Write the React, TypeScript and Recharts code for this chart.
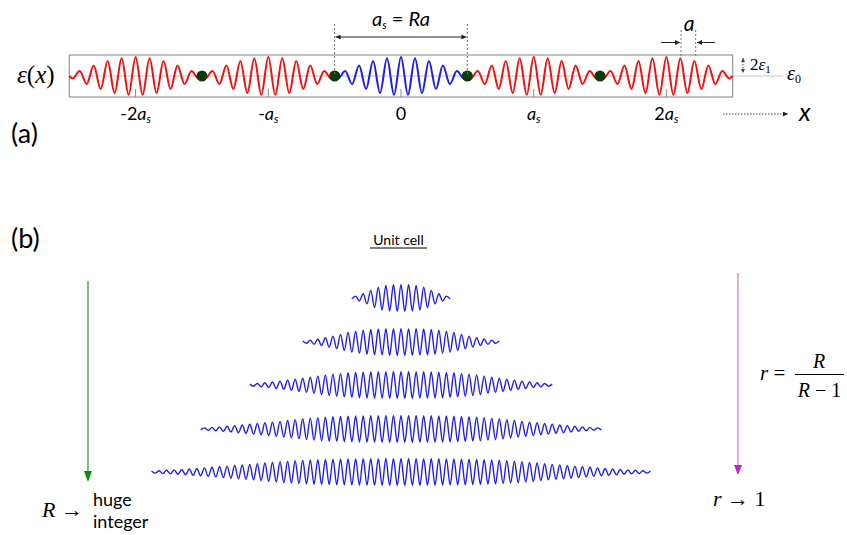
import React from 'react';
import { ComposedChart, LineChart, Line, Scatter, XAxis, YAxis, ReferenceArea, ReferenceLine } from 'recharts';

// ---- panel (a): periodic chain of unit cells ----
const cellCenters = [-2, -1, 0, 1, 2];
// crest heights of one cell, from the centre outwards, one per half cycle
const cellCrests = [19, 18.8, 17.8, 17, 15, 13, 10.5, 8, 5, 2.5];
const boundaries = [-1.5, -0.5, 0.5, 1.5];
const tickLabels = ['-2a_s', '-a_s', '0', 'a_s', '2a_s'];

// ---- panel (b): unit cells for growing R, crest heights centre outwards ----
const row1 = [13.5, 13.4, 13.2, 13, 12.6, 11.9, 10.8, 9.5, 7.6, 5.9, 4.3, 3, 1.9, 0.9];
const row2 = [13.5, 13.5, 13.4, 13.4, 13.2, 13.1, 13, 12.8, 12.6, 12.2, 11.9, 11.3, 10.8, 10.1, 9.5, 8.5, 7.6, 6.8, 5.9, 5.1, 4.3, 3.6, 3, 2.4, 1.9, 1.4, 0.9];
const row3 = [13.5, 13.5, 13.5, 13.5, 13.4, 13.3, 13.2, 13.2, 13.1, 13, 12.9, 12.8, 12.6, 12.4, 12.2, 11.9, 11.6, 11.3, 10.9, 10.5, 10.1, 9.5, 8.9, 8.3, 7.7, 7.3, 6.8, 6.3, 5.8, 5.4, 4.9, 4.4, 3.9, 3.5, 3, 2.6, 2.2, 1.9, 1.5, 1.2, 0.9];
const row4 = [13.5, 13.5, 13.5, 13.5, 13.5, 13.4, 13.4, 13.3, 13.2, 13.2, 13.1, 13.1, 13, 12.9, 12.8, 12.7, 12.6, 12.4, 12.3, 12.1, 11.9, 11.7, 11.4, 11.1, 10.9, 10.5, 10.2, 9.9, 9.4, 9, 8.5, 8.1, 7.6, 7.3, 6.9, 6.6, 6.2, 5.8, 5.5, 5.1, 4.8, 4.4, 4, 3.7, 3.4, 3, 2.7, 2.4, 2.1, 1.8, 1.6, 1.3, 1.1, 0.9];
const row5 = [13.5, 13.5, 13.5, 13.5, 13.5, 13.5, 13.4, 13.4, 13.3, 13.3, 13.2, 13.2, 13.1, 13.1, 13, 13, 12.9, 12.8, 12.8, 12.7, 12.6, 12.5, 12.3, 12.2, 12.1, 11.9, 11.7, 11.5, 11.3, 11.1, 10.8, 10.6, 10.3, 10.1, 9.7, 9.4, 9, 8.6, 8.3, 7.9, 7.6, 7.3, 7, 6.8, 6.5, 6.2, 5.9, 5.6, 5.3, 5, 4.7, 4.4, 4.1, 3.8, 3.5, 3.3, 3, 2.8, 2.5, 2.3, 2.1, 1.9, 1.7, 1.5, 1.3, 1.1, 0.9];
const rows = [row1, row2, row3, row4, row5];

// ---- layout ----
const W = 847;
const H = 535;
const CX = 401; // page x of the cell centre
const CELL_PX = 132.7;
const HALF_PX = 3.78;
const HALF_CYCLES_PER_CELL = 19;
const rowTops = [278, 321.5, 365, 408.5, 452];

const RED = '#f01010';
const BLUE = '#1e1ee8';
const SANS = 'Lato, "Open Sans", sans-serif';
const SERIF = '"Liberation Serif", "DejaVu Serif", serif';

type Row = { x: number; red?: number; blue?: number };
const tableA: Row[] = [];
cellCenters.forEach((c) => {
  const key = c === 0 ? 'blue' : 'red';
  const pts: { x: number; y: number }[] = [{ x: c - 0.5, y: 0 }];
  const n = cellCrests.length - 1;
  for (let k = -n; k <= n; k++) {
    pts.push({ x: c + k / HALF_CYCLES_PER_CELL, y: (k % 2 === 0 ? 1 : -1) * cellCrests[Math.abs(k)] });
  }
  pts.push({ x: c + 0.5, y: 0 });
  pts.forEach((p) => {
    const last = tableA[tableA.length - 1];
    if (last && Math.abs(last.x - p.x) < 1e-9) (last as any)[key] = p.y;
    else tableA.push({ x: p.x, [key]: p.y } as Row);
  });
});
const dotData = boundaries.map((b) => ({ x: b, y: 0 }));

const rowData = rows.map((crests) => {
  const n = crests.length - 1;
  const pts: { x: number; y: number }[] = [];
  for (let k = -n; k <= n; k++) pts.push({ x: k, y: (k % 2 === 0 ? 1 : -1) * crests[Math.abs(k)] });
  return pts;
});

const CellTick = (props: any) => {
  const { x, y, payload } = props;
  const label = tickLabels[cellCenters.indexOf(payload.value)] || '';
  const [main, sub] = label.split('_');
  const hasA = main.endsWith('a');
  const prefix = hasA ? main.slice(0, -1) : main;
  return (
    <g>
      <line x1={x} x2={x} y1={y - 8} y2={y} stroke="#8c8c8c" />
      <text x={x} y={y + 23} textAnchor="middle" fontFamily={SANS} fontSize={18} fill="#000">
        <tspan>{prefix}</tspan>
        {hasA && <tspan fontStyle="italic">a</tspan>}
        {sub && (
          <tspan fontStyle="italic" fontSize={11} dy={3}>
            {sub}
          </tspan>
        )}
      </text>
    </g>
  );
};

const App: React.FC = () => {
  return (
    <div style={{ position: 'absolute', left: 0, top: 0, width: W, height: H, background: '#fff' }}>
      {/* (a) */}
      <div style={{ position: 'absolute', left: 0, top: 0 }}>
        <ComposedChart width={W} height={140} data={tableA} margin={{ top: 55, right: 0, bottom: 13, left: 0 }}>
          <XAxis
            dataKey="x"
            type="number"
            domain={[-CX / CELL_PX, (W - CX) / CELL_PX]}
            ticks={cellCenters}
            tick={<CellTick />}
            axisLine={false}
            tickLine={false}
            tickSize={0}
            tickMargin={0}
            height={30}
            interval={0}
          />
          <YAxis type="number" domain={[-21, 21]} hide />
          <ReferenceArea x1={-2.5} x2={2.5} y1={-21} y2={21} fill="none" stroke="#808080" strokeWidth={1} />
          <ReferenceLine segment={[{ x: -2.5, y: 0 }, { x: 2.88, y: 0 }]} stroke="#c8c8c8" strokeWidth={1.2} />
          <Line dataKey="red" type="monotone" stroke={RED} strokeWidth={2} dot={false} isAnimationActive={false} connectNulls={false} />
          <Line dataKey="blue" type="monotone" stroke={BLUE} strokeWidth={2} dot={false} isAnimationActive={false} connectNulls={false} />
          <Scatter
            data={dotData}
            dataKey="y"
            isAnimationActive={false}
            shape={(p: any) => <circle cx={p.cx} cy={p.cy} r={5.5} fill="#0b3b0b" />}
          />
        </ComposedChart>
      </div>

      {/* (b) */}
      {rowData.map((d, i) => (
        <div key={i} style={{ position: 'absolute', left: 0, top: rowTops[i] }}>
          <LineChart width={W} height={40} data={d} margin={{ top: 0, right: 0, bottom: 0, left: 0 }}>
            <XAxis dataKey="x" type="number" domain={[-CX / HALF_PX, (W - CX) / HALF_PX]} hide />
            <YAxis type="number" domain={[-20, 20]} hide />
            <Line dataKey="y" type="monotone" stroke={BLUE} strokeWidth={1.4} dot={false} isAnimationActive={false} />
          </LineChart>
        </div>
      ))}

      {/* annotations */}
      <svg width={W} height={H} style={{ position: 'absolute', left: 0, top: 0, pointerEvents: 'none' }}>
        <defs>
          <marker id="ah" viewBox="0 0 10 10" refX="10" refY="5" markerWidth="7" markerHeight="5" orient="auto-start-reverse" markerUnits="userSpaceOnUse">
            <path d="M0,0 L10,5 L0,10 z" fill="#222" />
          </marker>
          <marker id="ahs" viewBox="0 0 10 10" refX="10" refY="5" markerWidth="4" markerHeight="4" orient="auto-start-reverse" markerUnits="userSpaceOnUse">
            <path d="M0,0 L10,5 L0,10 z" fill="#444" />
          </marker>
        </defs>

        {/* a_s = Ra */}
        <line x1={CX - CELL_PX / 2} x2={CX - CELL_PX / 2} y1={24} y2={76} stroke="#777" strokeDasharray="2 2" />
        <line x1={CX + CELL_PX / 2} x2={CX + CELL_PX / 2} y1={24} y2={76} stroke="#777" strokeDasharray="2 2" />
        <line x1={CX - CELL_PX / 2 + 1} x2={CX + CELL_PX / 2 - 1} y1={37} y2={37} stroke="#222" markerStart="url(#ah)" markerEnd="url(#ah)" />
        <text x={401} y={26} textAnchor="middle" fontFamily={SANS} fontSize={20} fill="#000">
          <tspan fontStyle="italic">a</tspan>
          <tspan fontStyle="italic" fontSize={11} dy={3}>s</tspan>
          <tspan dy={-3}> = </tspan>
          <tspan fontStyle="italic">Ra</tspan>
        </text>

        {/* lattice constant a */}
        <text x={689} y={31} textAnchor="middle" fontFamily={SANS} fontStyle="italic" fontSize={21} fill="#000">a</text>
        <line x1={681} x2={681} y1={30} y2={57} stroke="#777" strokeDasharray="2 2" />
        <line x1={695.7} x2={695.7} y1={30} y2={57} stroke="#777" strokeDasharray="2 2" />
        <line x1={661} x2={680} y1={42.5} y2={42.5} stroke="#222" markerEnd="url(#ah)" />
        <line x1={715} x2={697} y1={42.5} y2={42.5} stroke="#222" markerEnd="url(#ah)" />

        {/* 2 eps1, eps0 */}
        <line x1={743} x2={743} y1={58} y2={73} stroke="#444" strokeDasharray="1.5 1.5" markerStart="url(#ahs)" markerEnd="url(#ahs)" />
        <text x={750} y={70} fontFamily={SERIF} fontSize={17} fill="#000">
          2<tspan fontStyle="italic">ε</tspan>
          <tspan fontSize={11} dy={3}>1</tspan>
        </text>
        <text x={787} y={80} fontFamily={SERIF} fontSize={20} fill="#000">
          <tspan fontStyle="italic">ε</tspan>
          <tspan fontSize={12} dy={3}>0</tspan>
        </text>

        <text x={17} y={83} fontFamily={SERIF} fontSize={25} fill="#000">
          <tspan fontStyle="italic">ε</tspan>(<tspan fontStyle="italic">x</tspan>)
        </text>

        {/* x axis arrow */}
        <line x1={723} x2={788} y1={114} y2={114} stroke="#444" strokeDasharray="1.5 1.5" markerEnd="url(#ah)" />
        <text x={799} y={121} fontFamily={SANS} fontStyle="italic" fontSize={25} fill="#000">x</text>

        <text x={11} y={143} fontFamily={SANS} fontSize={27} fill="#000">(a)</text>
        <text x={11} y={248} fontFamily={SANS} fontSize={27} fill="#000">(b)</text>

        <text x={398.5} y={245} textAnchor="middle" fontFamily={SANS} fontSize={14} fill="#000">Unit cell</text>
        <line x1={370} x2={427} y1={248} y2={248} stroke="#000" strokeWidth={1} />

        {/* R -> huge integer */}
        <line x1={88} x2={88} y1={281} y2={473} stroke="#3a9a3a" strokeWidth={1.3} />
        <polygon points="84,471 92,471 88,482" fill="#138a13" />
        <text x={42} y={517} fontFamily={SERIF} fontSize={22} fill="#000">
          <tspan fontStyle="italic">R</tspan> →
        </text>
        <text x={93} y={506} fontFamily={SANS} fontSize={18} fill="#000">huge</text>
        <text x={93} y={528} fontFamily={SANS} fontSize={18} fill="#000">integer</text>

        {/* r -> 1 */}
        <line x1={738} x2={738} y1={273} y2={466} stroke="#d88ed8" strokeWidth={1.5} />
        <polygon points="734,465 742,465 738,475" fill="#c81ec8" />
        <text x={713} y={506} fontFamily={SERIF} fontSize={22} fill="#000">
          <tspan fontStyle="italic">r</tspan> → 1
        </text>

        <text x={760} y={380} fontFamily={SERIF} fontSize={21} fill="#000">
          <tspan fontStyle="italic">r</tspan> =
        </text>
        <text x={819} y={368} textAnchor="middle" fontFamily={SERIF} fontStyle="italic" fontSize={20} fill="#000">R</text>
        <line x1={795} x2={844} y1={374.5} y2={374.5} stroke="#000" strokeWidth={1} />
        <text x={819.5} y={397} textAnchor="middle" fontFamily={SERIF} fontSize={20} fill="#000">
          <tspan fontStyle="italic">R</tspan> − 1
        </text>
      </svg>
    </div>
  );
};

export default App;
